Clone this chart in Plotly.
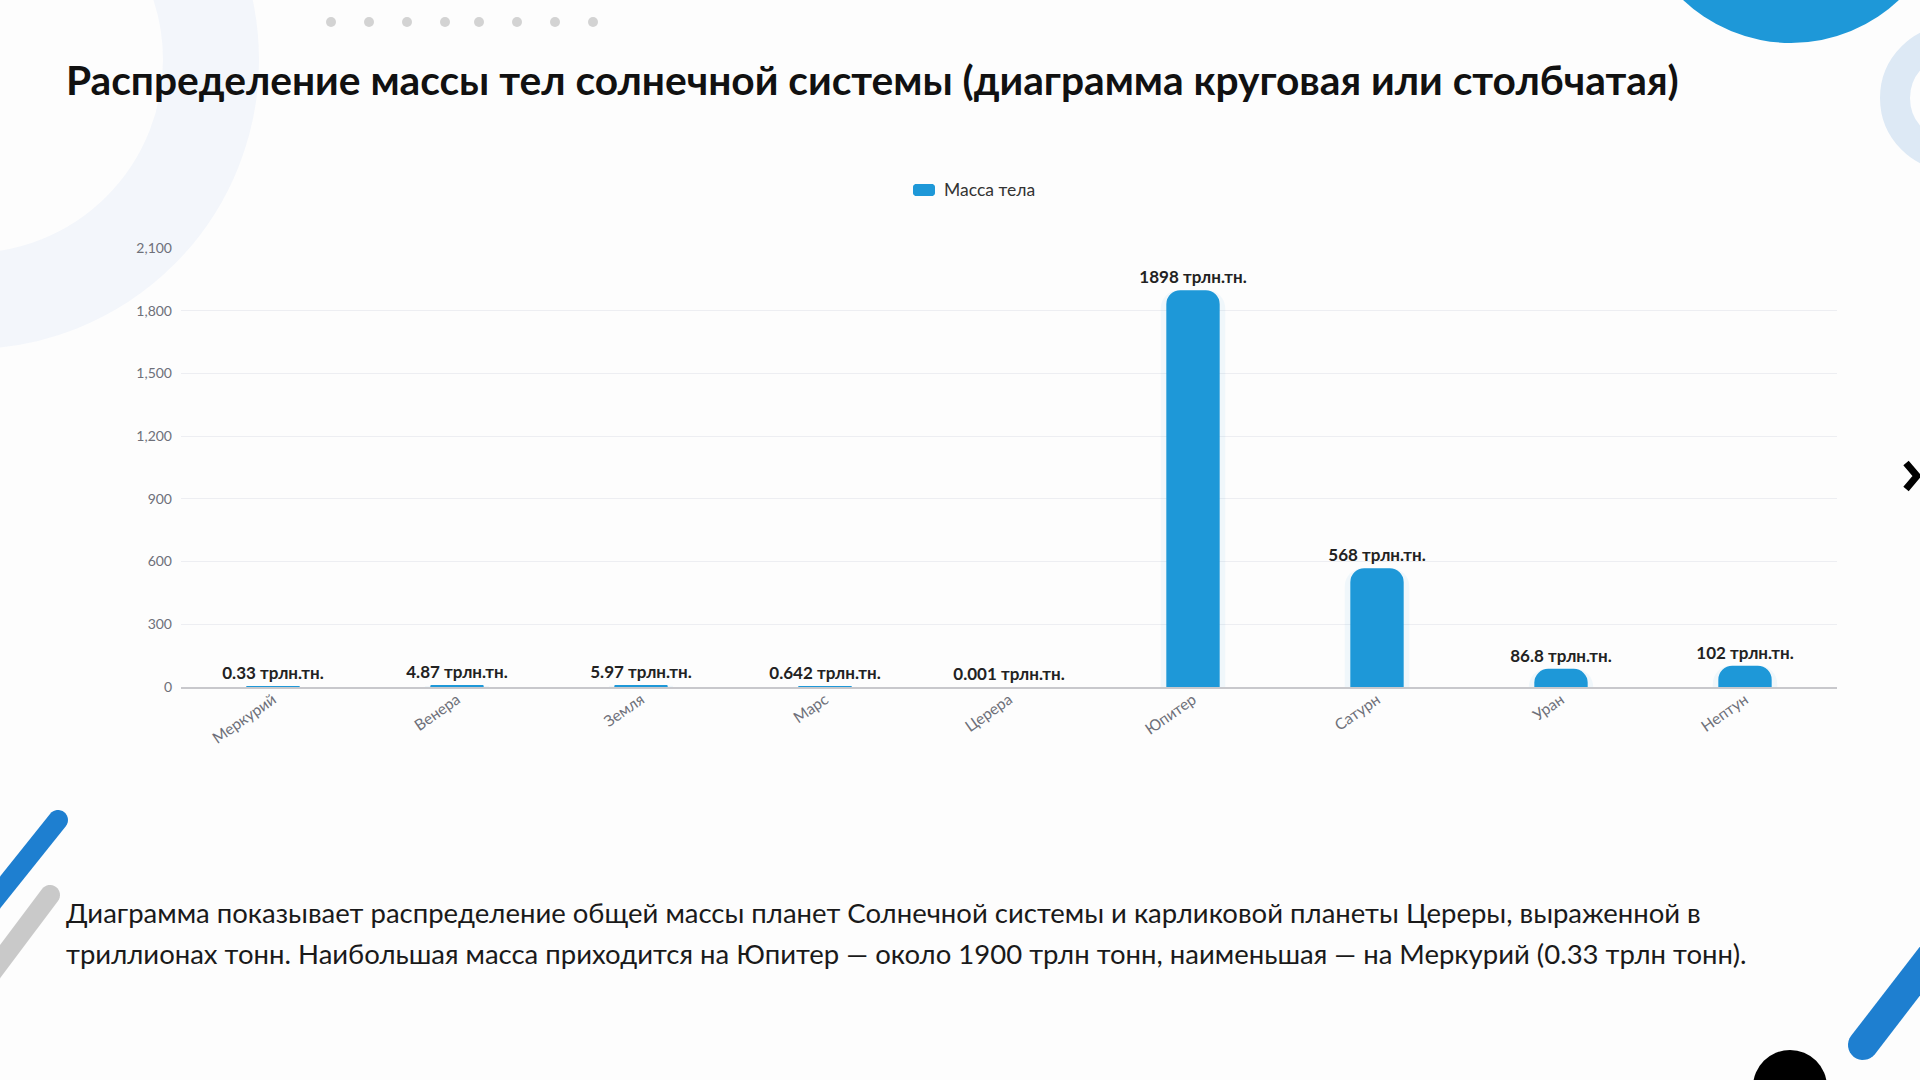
import math
import plotly.graph_objects as go

# ---------------- data ----------------
categories = ["Меркурий", "Венера", "Земля", "Марс", "Церера", "Юпитер", "Сатурн", "Уран", "Нептун"]
masses = [0.33, 4.87, 5.97, 0.642, 0.001, 1898, 568, 86.8, 102]
series_name = "Масса тела"
unit = "трлн.тн."
y_ticks = [0, 300, 600, 900, 1200, 1500, 1800, 2100]
title_text = "Распределение массы тел солнечной системы (диаграмма круговая или столбчатая)"
para_lines = [
    "Диаграмма показывает распределение общей массы планет Солнечной системы и карликовой планеты Цереры, выраженной в",
    "триллионах тонн. Наибольшая масса приходится на Юпитер — около 1900 трлн тонн, наименьшая — на Меркурий (0.33 трлн тонн).",
]

# ---------------- layout geometry (pixels) ----------------
FW, FH = 1920, 1080
L, R, T, B = 181, 1837, 248, 687
W, H = R - L, B - T


def X(px):
    return (px - L) / W


def Y(py):
    return (B - py) / H


BLUE = "#1E98D8"
FONT = "Lato"

labels = [f"{v:g} {unit}" for v in masses]

fig = go.Figure()
# soft glow behind the bars
fig.add_trace(go.Bar(
    x=categories,
    y=masses,
    marker=dict(color="rgba(30,152,216,0.06)", cornerradius=18, line=dict(width=0)),
    width=0.35,
    showlegend=False,
    hoverinfo="skip",
))
fig.add_trace(go.Bar(
    x=categories,
    y=masses,
    name=series_name,
    marker=dict(color=BLUE, cornerradius=14, line=dict(width=0)),
    text=[f"<b>{t}</b>" for t in labels],
    textposition="outside",
    constraintext="none",
    textfont=dict(family=FONT, size=17, color="#222222"),
    cliponaxis=False,
    width=0.29,
    showlegend=False,
))

shapes = []


def circle(cx, cy, r, fill=None, line_color=None, line_width=0, layer="below"):
    d = dict(type="circle", xref="paper", yref="paper",
             x0=X(cx - r), x1=X(cx + r), y0=Y(cy + r), y1=Y(cy - r), layer=layer)
    d["fillcolor"] = fill if fill else "rgba(0,0,0,0)"
    d["line"] = dict(color=line_color, width=line_width) if line_color else dict(width=0)
    return d


def stadium(p1, p2, hw, color, layer="below"):
    (x1, y1), (x2, y2) = p1, p2
    ang = math.atan2(y2 - y1, x2 - x1)
    pts = []
    n = 16
    for i in range(n + 1):
        a = ang - math.pi / 2 + math.pi * i / n
        pts.append((x2 + hw * math.cos(a), y2 + hw * math.sin(a)))
    for i in range(n + 1):
        a = ang + math.pi / 2 + math.pi * i / n
        pts.append((x1 + hw * math.cos(a), y1 + hw * math.sin(a)))
    path = "M " + " L ".join(f"{X(px):.5f},{Y(py):.5f}" for px, py in pts) + " Z"
    return dict(type="path", xref="paper", yref="paper", path=path,
                fillcolor=color, line=dict(width=0), layer=layer)


def round_rect(x0, y0, x1, y1, r, color, layer="above"):
    pts = []
    n = 6
    corners = [(x1 - r, y0 + r, -90), (x1 - r, y1 - r, 0), (x0 + r, y1 - r, 90), (x0 + r, y0 + r, 180)]
    for cx, cy, a0 in corners:
        for i in range(n + 1):
            a = math.radians(a0 + 90 * i / n)
            pts.append((cx + r * math.cos(a), cy + r * math.sin(a)))
    path = "M " + " L ".join(f"{X(px):.5f},{Y(py):.5f}" for px, py in pts) + " Z"
    return dict(type="path", xref="paper", yref="paper", path=path,
                fillcolor=color, line=dict(width=0), layer=layer)


# decorative elements
shapes.append(circle(-30, 60, 241, line_color="#F3F6FB", line_width=96))
shapes.append(circle(1791, -114, 157, fill=BLUE))
shapes.append(circle(1953, 98, 58, line_color="#DDE9F5", line_width=30))
for dx in [331, 369, 407, 445, 479, 517, 555, 593]:
    shapes.append(circle(dx, 22, 5, fill="#D3D3D3"))
shapes.append(stadium((58, 820), (-10, 905), 10, "#1E7FD0"))
shapes.append(stadium((50, 895), (-10, 975), 10, "#C9C9C9"))
shapes.append(stadium((1863, 1045), (1940, 945), 15, "#1E7FD0"))
shapes.append(circle(1790, 1087, 37, fill="#000000"))
shapes.append(dict(type="path", xref="paper", yref="paper",
                   path=f"M {X(1906):.5f},{Y(463):.5f} L {X(1917):.5f},{Y(476):.5f} L {X(1906):.5f},{Y(489):.5f}",
                   line=dict(color="#000000", width=7), layer="above"))
# legend symbol
shapes.append(round_rect(913, 184, 935, 196, 3, BLUE))

annotations = [
    dict(text=f"<b>{title_text}</b>", xref="paper", yref="paper", x=X(64), y=Y(79),
         xanchor="left", yanchor="middle", showarrow=False,
         font=dict(family=FONT, size=40.7, color="#111111")),
    dict(text=series_name, xref="paper", yref="paper", x=X(942), y=Y(190),
         xanchor="left", yanchor="middle", showarrow=False,
         font=dict(family=FONT, size=17.5, color="#333333")),
]
for i, ln in enumerate(para_lines):
    annotations.append(dict(text=ln, xref="paper", yref="paper", x=X(64), y=Y(912 + 41 * i),
                            xanchor="left", yanchor="middle", showarrow=False,
                            font=dict(family=FONT, size=27.5, color="#1a1a1a")))

fig.update_layout(
    width=FW, height=FH,
    margin=dict(l=L, r=FW - R, t=T, b=FH - B, pad=0),
    paper_bgcolor="#FDFDFD",
    plot_bgcolor="rgba(0,0,0,0)",
    showlegend=False,
    barmode="overlay",
    shapes=shapes,
    annotations=annotations,
    font=dict(family=FONT),
)
fig.update_xaxes(
    range=[-0.5, len(categories) - 0.5],
    tickangle=-35,
    tickfont=dict(family=FONT, size=15.5, color="#6E7079"),
    showline=True, linecolor="#C8C8CC", linewidth=1.5,
    showgrid=False, ticks="", ticklabelstandoff=-4,
)
fig.update_yaxes(
    range=[0, 2100],
    tickvals=y_ticks,
    tickformat=",",
    tickfont=dict(family=FONT, size=14, color="#6E7079"),
    showgrid=True, gridcolor="#EDEEF2", gridwidth=1,
    zeroline=False, showline=False, ticks="", ticklabelstandoff=8,
)

fig.write_html("out.html")
